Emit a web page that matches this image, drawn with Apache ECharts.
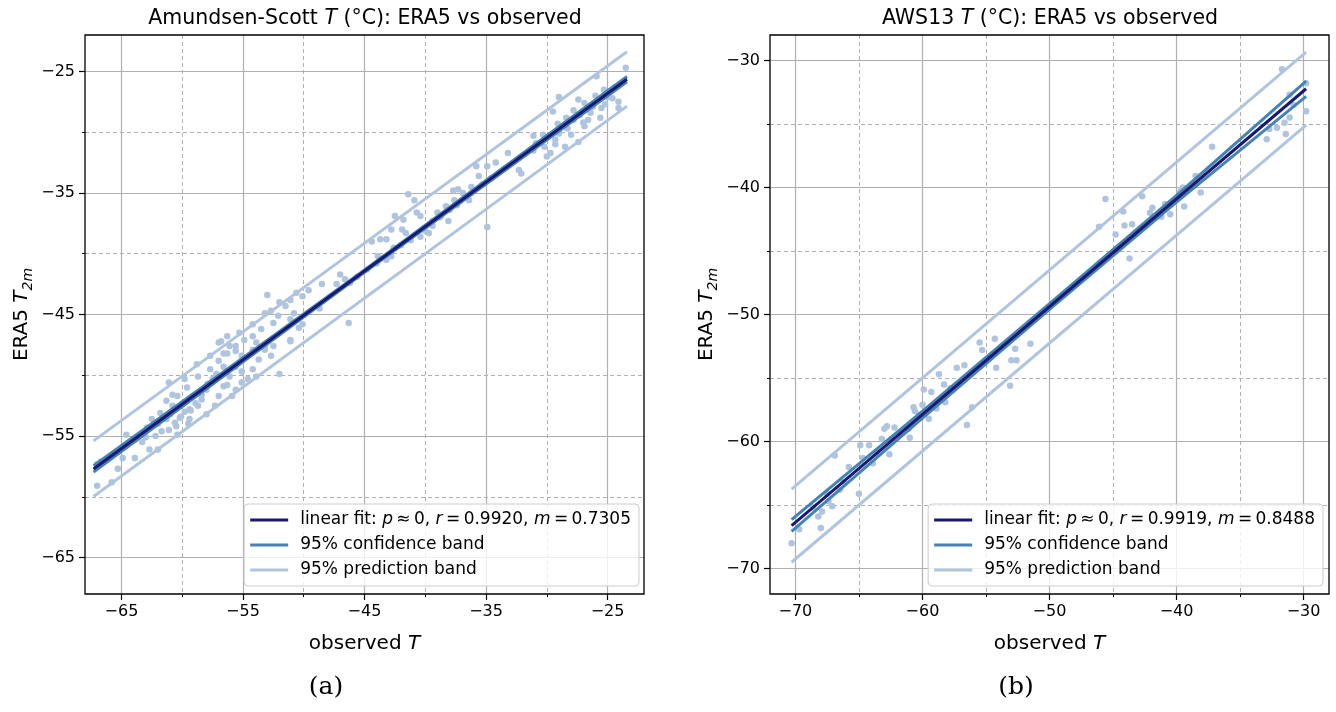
<!DOCTYPE html>
<html><head><meta charset="utf-8">
<script src="https://cdn.jsdelivr.net/npm/echarts@6/dist/echarts.min.js"></script>
<style>html,body{margin:0;padding:0;background:#fff}#c{width:1336px;height:712px}</style>
</head><body><div id="c"></div>
<script>
// ---------- DATA ----------
const titleA = 'Amundsen-Scott';
const titleB = 'AWS13';
const majorTicksA = [-65, -55, -45, -35, -25];
const minorTicksA = [-60, -50, -40, -30];
const majorTicksB = [-70, -60, -50, -40, -30];
const minorTicksB = [-65, -55, -45, -35];
const rangeA = [-68, -22];
const rangeB = [-72, -28];
const fitStatsA = {p: '0', r: '0.9920', m: '0.7305'};
const fitStatsB = {p: '0', r: '0.9919', m: '0.8488'};

// observed T, ERA5 T2m pairs
const pointsA = [
[-23.5,-24.7],[-25.9,-25.4],[-29.0,-27.1],[-29.5,-28.3],[-27.4,-27.3],[-26.9,-27.6],[-26.2,-27.9],[-25.5,-28.0],[-25.2,-27.7],[-24.1,-27.5],
[-24.1,-28.0],[-25.0,-27.1],[-27.3,-28.6],[-27.8,-29.0],[-26.6,-29.0],[-26.9,-29.5],[-28.3,-29.7],[-27.4,-30.8],[-29.0,-30.1],[-29.3,-30.6],
[-28.5,-31.2],[-29.7,-31.7],[-30.2,-31.2],[-31.1,-30.3],[-30.0,-32.0],[-31.1,-31.5],[-32.1,-33.4],[-32.3,-33.1],[-33.2,-31.7],[-34.2,-32.5],
[-34.9,-32.8],[-35.6,-33.6],[-35.8,-32.8],[-36.2,-34.5],[-36.9,-35.0],[-36.4,-35.6],[-37.3,-34.7],[-37.7,-34.8],[-37.6,-35.6],[-38.3,-36.1],
[-38.7,-36.9],[-38.1,-37.3],[-39.0,-36.6],[-39.4,-37.7],[-40.4,-36.9],[-40.9,-35.6],[-41.4,-35.1],[-40.7,-36.6],[-40.4,-38.6],[-39.7,-38.3],
[-34.9,-37.8],[-41.8,-37.2],[-42.5,-36.9],[-41.6,-38.3],[-41.9,-38.0],[-42.8,-38.0],[-43.2,-38.8],[-43.7,-38.8],[-44.4,-39.0],[-42.6,-39.5],
[-44.0,-40.8],[-43.9,-40.2],[-42.8,-40.2],[-47.0,-41.7],[-47.3,-42.5],[-46.6,-42.1],[-48.5,-42.5],[-46.3,-45.7],[-48.7,-44.5],[-49.6,-43.0],
[-50.1,-43.5],[-50.6,-43.2],[-51.1,-43.8],[-50.8,-44.9],[-51.5,-44.3],[-52.0,-44.0],[-51.1,-45.4],[-50.4,-46.1],[-50.1,-45.8],[-53.0,-43.4],
[-52.7,-44.7],[-53.2,-44.9],[-52.1,-45.1],[-52.5,-45.7],[-53.5,-46.2],[-54.2,-45.8],[-54.2,-46.8],[-53.9,-47.3],[-54.9,-47.1],[-55.3,-46.5],
[-56.3,-46.8],[-56.8,-47.2],[-56.1,-47.6],[-55.6,-48.0],[-57.7,-48.4],[-56.6,-48.2],[-51.1,-47.1],[-52.5,-47.6],[-53.2,-47.9],
[-57.0,-47.3],[-56.3,-48.2],[-55.6,-47.6],[-55.1,-48.4],[-54.2,-47.9],[-53.7,-48.7],[-53.2,-47.6],[-52.7,-48.4],[-51.1,-47.2],[-54.2,-49.5],
[-53.9,-50.1],[-54.6,-50.3],[-55.1,-49.7],[-55.6,-49.3],[-56.1,-50.1],[-56.6,-50.9],[-55.6,-51.2],[-55.9,-51.7],[-55.1,-50.6],[-52.0,-49.9],
[-57.0,-48.8],[-57.7,-49.5],[-57.5,-50.3],[-58.0,-51.2],[-58.7,-50.1],[-58.8,-49.1],[-59.8,-50.3],[-59.6,-51.0],[-59.1,-51.7],[-58.4,-52.0],
[-58.7,-52.5],[-59.4,-52.8],[-59.9,-52.3],[-60.4,-51.7],[-61.1,-50.6],[-60.8,-52.5],[-60.1,-53.4],[-60.6,-53.9],[-60.4,-54.9],[-61.1,-54.5],
[-61.3,-53.6],[-61.8,-53.1],[-62.0,-54.0],[-62.5,-53.6],[-62.9,-54.3],[-63.0,-55.1],[-62.0,-56.1],[-62.7,-56.1],[-63.9,-55.3],[-63.9,-56.8],
[-64.9,-56.8],[-64.6,-54.9],[-65.3,-57.7],[-65.8,-58.8],[-67.0,-59.1],[-67.0,-57.3],[-66.7,-57.1],[-61.3,-52.1],[-60.8,-51.6],[-59.4,-53.6],
[-58.0,-53.2],[-57.3,-52.5],[-57.0,-51.7],[-56.3,-50.8],
[-60.2,-53.5],[-59.8,-53.0],[-59.3,-52.9],[-60.5,-54.2],[-59.5,-54.0],[-58.9,-52.3],[-58.4,-51.6],[-57.9,-50.7],[-57.2,-49.9],[-56.6,-49.3],
[-61.7,-54.6],[-62.2,-55.0],[-63.3,-55.5],[-61.0,-53.2],
[-26.0,-27.0],[-25.3,-26.5],[-24.4,-26.3],[-23.8,-25.9],[-24.6,-27.2],[-27.8,-28.2],[-28.4,-28.8],[-29.1,-29.3],[-30.3,-30.2],[-30.9,-30.9],
[-26.4,-28.4],[-25.6,-28.8],[-27.0,-29.2],[-28.0,-30.2],[-29.3,-31.0],
[-44.8,-41.3],[-45.6,-41.9],[-46.2,-42.4],[-43.2,-40.5],[-42.0,-39.3],[-41.2,-38.9],[-40.0,-38.1],[-39.4,-37.3],[-38.8,-37.0],[-38.0,-36.4],
[-37.4,-36.0],[-36.7,-35.3],[-36.0,-34.8],[-35.3,-34.3],[-34.6,-33.8],[-33.5,-33.0]
];

const pointsB = [
[-31.7,-30.7],[-29.8,-31.8],[-31.1,-32.7],[-30.8,-33.5],[-31.1,-34.5],[-31.5,-34.9],[-32.1,-35.3],[-32.7,-35.4],[-32.9,-36.2],[-31.4,-35.8],
[-29.8,-34.0],[-37.2,-36.8],[-38.1,-40.4],[-38.5,-39.1],[-39.5,-40.0],[-39.7,-40.3],[-39.4,-41.5],[-40.5,-42.1],[-41.2,-42.3],[-41.9,-41.6],
[-42.7,-40.7],[-43.5,-42.9],[-44.1,-43.0],[-44.8,-43.7],[-46.1,-43.1],[-45.6,-40.9],[-43.7,-45.6],[-51.5,-52.3],[-52.7,-52.7],[-52.6,-53.6],
[-53.0,-53.6],[-54.3,-51.9],[-55.5,-52.2],[-55.3,-52.8],[-54.2,-54.2],[-53.1,-55.6],[-56.7,-54.0],[-57.3,-54.2],[-56.1,-57.3],[-56.5,-58.7],
[-58.7,-54.7],[-58.3,-55.5],[-59.3,-56.1],[-59.9,-55.9],[-60.0,-57.1],[-60.7,-57.3],[-60.6,-57.6],[-60.3,-57.9],[-59.5,-58.2],[-58.9,-57.4],
[-58.2,-56.9],[-61.1,-59.0],[-61.0,-59.7],[-62.2,-58.9],[-62.8,-58.8],[-63.0,-59.0],[-63.2,-59.8],[-62.6,-61.0],[-64.2,-60.3],[-64.9,-60.3],
[-64.7,-61.3],[-63.9,-61.7],[-65.8,-62.0],[-66.9,-61.1],[-66.5,-63.8],[-65.0,-64.1],[-67.4,-64.7],[-67.1,-65.1],[-67.9,-65.5],[-68.2,-65.9],
[-69.7,-66.9],[-68.0,-66.8],[-70.3,-68.0],
[-61.8,-59.3],[-62.4,-59.8],[-63.6,-60.8],[-66.2,-63.2],[-67.5,-64.1],[-68.6,-65.2],[-57.8,-55.8],[-55.0,-53.6],[-44.2,-41.9],[-42.1,-42.0],[-40.9,-41.3]
];

// fit / band lines (observed, ERA5)
const fitA = [[-67.3,-57.71],[-23.4,-25.64]];
const confUpperA = [[-67.3,-57.45],[-45,-41.33],[-23.4,-25.42]];
const confLowerA = [[-67.3,-57.97],[-45,-41.53],[-23.4,-25.86]];
const predUpperA = [[-67.3,-55.40],[-23.4,-23.38]];
const predLowerA = [[-67.3,-59.98],[-23.4,-27.85]];

const fitB = [[-70.3,-66.61],[-29.8,-32.23]];
const confUpperB = [[-70.3,-66.15],[-60,-57.60],[-50,-49.15],[-40,-40.62],[-29.8,-31.63]];
const confLowerB = [[-70.3,-67.07],[-60,-58.15],[-50,-49.60],[-40,-41.16],[-29.8,-32.83]];
const predUpperB = [[-70.3,-63.75],[-29.8,-29.35]];
const predLowerB = [[-70.3,-69.50],[-29.8,-35.10]];

// ---------- STYLE / LAYOUT ----------
const FONT = 'DejaVu Sans';
const C_FIT = '#191970', C_CONF = '#4682b4', C_PRED = '#b0c4de', C_PT = '#b0c4de';
const grids = [
  {left: 85, top: 35, width: 559, height: 559},
  {left: 770, top: 35, width: 559, height: 559}
];
const fmt = v => (v < 0 ? '\u2212' : '') + Math.abs(v);

function axesFor(gi, range, major, minor, isX) {
  const main = {
    type: 'value', gridIndex: gi, min: range[0], max: range[1],
    position: isX ? 'bottom' : 'left',
    axisLine: {show: false},
    axisTick: {show: true, customValues: major, length: 6, lineStyle: {color: '#000', width: 1.2}},
    axisLabel: {customValues: major, formatter: fmt, fontSize: 16, color: '#000', fontFamily: FONT, margin: 10},
    splitLine: {show: true, lineStyle: {color: '#b0b0b0', width: 1.2}}
  };
  if (isX) {
    main.name = 'observed {i|T}';
    main.nameLocation = 'middle';
    main.nameGap = 40;
    main.nameTextStyle = {fontSize: 20, fontFamily: FONT, color: '#000',
      rich: {i: {fontSize: 20, fontFamily: FONT, fontStyle: 'italic', color: '#000'}}};
  } else {
    main.name = 'ERA5 {i|T}{sub|2m}';
    main.nameLocation = 'middle';
    main.nameRotate = 90;
    main.nameGap = 50;
    main.nameTextStyle = {fontSize: 20, fontFamily: FONT, color: '#000', lineHeight: 26,
      rich: {i: {fontSize: 20, fontFamily: FONT, fontStyle: 'italic', color: '#000', lineHeight: 26},
             sub: {fontSize: 14, fontFamily: FONT, fontStyle: 'italic', color: '#000', lineHeight: 26, verticalAlign: 'bottom'}}};
  }
  const minorAx = {
    type: 'value', gridIndex: gi, min: range[0], max: range[1],
    position: isX ? 'bottom' : 'left',
    axisLine: {show: false},
    axisTick: {show: true, customValues: minor, length: 3, lineStyle: {color: '#000', width: 1}},
    axisLabel: {show: false, customValues: minor},
    splitLine: {show: true, lineStyle: {color: '#b0b0b0', width: 1, type: [4, 3]}}
  };
  return [main, minorAx];
}

const xAxis = [...axesFor(0, rangeA, majorTicksA, minorTicksA, true), ...axesFor(1, rangeB, majorTicksB, minorTicksB, true)];
const yAxis = [...axesFor(0, rangeA, majorTicksA, minorTicksA, false), ...axesFor(1, rangeB, majorTicksB, minorTicksB, false)];

function lineSeries(name, data, color, xi, z) {
  return {type: 'line', name, data, xAxisIndex: xi, yAxisIndex: xi, showSymbol: false, symbol: 'none',
    lineStyle: {color, width: 3}, itemStyle: {color}, z, silent: true, animation: false};
}
const series = [];
[[pointsA, 0, 'fitA', fitA, confUpperA, confLowerA, predUpperA, predLowerA],
 [pointsB, 2, 'fitB', fitB, confUpperB, confLowerB, predUpperB, predLowerB]].forEach(s => {
  const [pts, xi, fitName, fit, cu, cl, pu, pl] = s;
  series.push({type: 'scatter', data: pts, xAxisIndex: xi, yAxisIndex: xi, symbolSize: 6.5,
    itemStyle: {color: C_PT, opacity: 1}, z: 2, silent: true});
  series.push(lineSeries('95% prediction band', pu, C_PRED, xi, 3));
  series.push(lineSeries('95% prediction band', pl, C_PRED, xi, 3));
  series.push(lineSeries('95% confidence band', cu, C_CONF, xi, 4));
  series.push(lineSeries('95% confidence band', cl, C_CONF, xi, 4));
  series.push(lineSeries(fitName, fit, C_FIT, xi, 5));
});

const TS = '\u2009';
const fitLabel = st => 'linear fit: {i|p}' + TS + '\u2248' + TS + st.p + ', {i|r}' + TS + '=' + TS + st.r + ', {i|m}' + TS + '=' + TS + st.m;
function legendFor(fitName, stats, right) {
  return {
    orient: 'vertical', right, bottom: 126, itemWidth: 38, itemHeight: 3, itemGap: 3, icon: 'rect',
    data: [fitName, '95% confidence band', '95% prediction band'],
    formatter: n => n === fitName ? fitLabel(stats) : n,
    backgroundColor: 'rgba(255,255,255,0.8)', borderColor: '#cccccc', borderWidth: 1, borderRadius: 4,
    padding: [5, 8, 5, 6], selectedMode: false,
    textStyle: {fontSize: 17, fontFamily: FONT, color: '#000', lineHeight: 22, padding: [0, 0, 0, 7],
      rich: {i: {fontSize: 17, fontFamily: FONT, fontStyle: 'italic', color: '#000', lineHeight: 22}}}
  };
}

const titleStyle = {fontSize: 20.5, fontWeight: 'normal', fontFamily: FONT, color: '#000',
  rich: {i: {fontSize: 20.5, fontFamily: FONT, fontStyle: 'italic', color: '#000'}}};
const capStyle = {fontSize: 25, fontWeight: 'normal', fontFamily: 'DejaVu Serif', color: '#000'};

const option = {
  animation: false,
  backgroundColor: '#fff',
  title: [
    {text: titleA + ' {i|T} (\u00b0C): ERA5 vs observed', left: 365, top: 8, textAlign: 'center', textStyle: titleStyle, padding: 0},
    {text: titleB + ' {i|T} (\u00b0C): ERA5 vs observed', left: 1050, top: 8, textAlign: 'center', textStyle: titleStyle, padding: 0},
    {text: '(a)', left: 326, top: 675, textAlign: 'center', textStyle: capStyle, padding: 0},
    {text: '(b)', left: 1016, top: 675, textAlign: 'center', textStyle: capStyle, padding: 0}
  ],
  grid: grids.map(g => Object.assign({show: true, borderColor: '#000', borderWidth: 1.3, backgroundColor: 'transparent', z: 10}, g)),
  legend: [legendFor('fitA', fitStatsA, 697), legendFor('fitB', fitStatsB, 13)],
  xAxis, yAxis, series
};
const chart = echarts.init(document.getElementById('c'), null, {renderer: 'canvas'});
chart.setOption(option);
</script></body></html>
